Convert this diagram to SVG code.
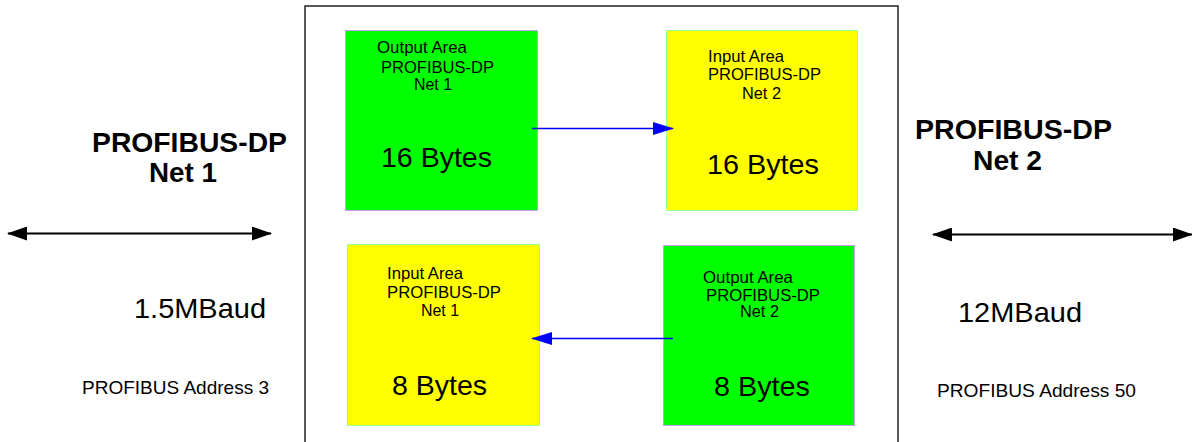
<svg xmlns="http://www.w3.org/2000/svg" width="1192" height="442" viewBox="0 0 1192 442">
<style>
text{font-family:"Liberation Sans",Arial,sans-serif;fill:#000}
.s{font-size:16.5px}
.b{font-size:28px}
.h{font-size:28px;font-weight:bold}
.m{font-size:28px}
.a{font-size:19px}
.green{fill:#00ff00;stroke:#cc99ff;stroke-width:1}
.yellow{fill:#ffff00;stroke:#99ff99;stroke-width:1}
.blue{stroke:#0000ff;stroke-width:1.5;fill:none}
.bus{stroke:#000;stroke-width:2;fill:none}
</style>
<defs>
<marker id="ab" markerWidth="21" markerHeight="13" refX="20" refY="6.5" orient="auto" markerUnits="userSpaceOnUse">
<path d="M0,0 L21,6.5 L0,13 Z" fill="#0000ff"/>
</marker>
<marker id="ak" markerWidth="20" markerHeight="14" refX="19" refY="7" orient="auto-start-reverse" markerUnits="userSpaceOnUse">
<path d="M0,0 L20,7 L0,14 Z" fill="#000"/>
</marker>
</defs>
<rect x="305" y="6" width="593" height="450" fill="#fff" stroke="#222" stroke-width="1.5"/>
<g id="out1">
<rect class="green" x="345.5" y="30.5" width="192" height="180"/>
<text class="s" x="377" y="53" textLength="90" lengthAdjust="spacingAndGlyphs">Output Area</text>
<text class="s" x="381" y="73" textLength="113" lengthAdjust="spacingAndGlyphs">PROFIBUS-DP</text>
<text class="s" x="414" y="90" textLength="38" lengthAdjust="spacingAndGlyphs">Net 1</text>
<text class="b" x="381" y="167" textLength="111" lengthAdjust="spacingAndGlyphs">16 Bytes</text>
</g>
<g id="in2">
<rect class="yellow" x="666.5" y="30.5" width="191" height="180"/>
<text class="s" x="708" y="62" textLength="76" lengthAdjust="spacingAndGlyphs">Input Area</text>
<text class="s" x="708" y="80" textLength="113" lengthAdjust="spacingAndGlyphs">PROFIBUS-DP</text>
<text class="s" x="742" y="99" textLength="39" lengthAdjust="spacingAndGlyphs">Net 2</text>
<text class="b" x="707" y="174" textLength="112" lengthAdjust="spacingAndGlyphs">16 Bytes</text>
</g>
<g id="in1">
<rect class="yellow" x="347.5" y="244.5" width="192" height="181"/>
<text class="s" x="387" y="279" textLength="76" lengthAdjust="spacingAndGlyphs">Input Area</text>
<text class="s" x="387" y="298" textLength="114" lengthAdjust="spacingAndGlyphs">PROFIBUS-DP</text>
<text class="s" x="421" y="316" textLength="38" lengthAdjust="spacingAndGlyphs">Net 1</text>
<text class="b" x="392" y="395" textLength="95" lengthAdjust="spacingAndGlyphs">8 Bytes</text>
</g>
<g id="out2">
<rect class="green" x="663.5" y="245.5" width="191" height="180"/>
<text class="s" x="703" y="283" textLength="90" lengthAdjust="spacingAndGlyphs">Output Area</text>
<text class="s" x="706" y="301" textLength="114" lengthAdjust="spacingAndGlyphs">PROFIBUS-DP</text>
<text class="s" x="740" y="317" textLength="39" lengthAdjust="spacingAndGlyphs">Net 2</text>
<text class="b" x="714" y="396" textLength="96" lengthAdjust="spacingAndGlyphs">8 Bytes</text>
</g>
<g id="net1">
<text class="h" x="92" y="152" textLength="195" lengthAdjust="spacingAndGlyphs">PROFIBUS-DP</text>
<text class="h" x="149" y="182" textLength="68" lengthAdjust="spacingAndGlyphs">Net 1</text>
<text class="m" x="134" y="318" textLength="132" lengthAdjust="spacingAndGlyphs">1.5MBaud</text>
<text class="a" x="82" y="394" textLength="187" lengthAdjust="spacingAndGlyphs">PROFIBUS Address 3</text>
</g>
<g id="net2">
<text class="h" x="915" y="139" textLength="197" lengthAdjust="spacingAndGlyphs">PROFIBUS-DP</text>
<text class="h" x="973" y="170" textLength="69" lengthAdjust="spacingAndGlyphs">Net 2</text>
<text class="m" x="958" y="322" textLength="124" lengthAdjust="spacingAndGlyphs">12MBaud</text>
<text class="a" x="937" y="397" textLength="199" lengthAdjust="spacingAndGlyphs">PROFIBUS Address 50</text>
</g>
<g id="connectors">
<line class="blue" x1="532" y1="128.5" x2="673" y2="128.5" marker-end="url(#ab)"/>
<line class="blue" x1="673" y1="338.5" x2="532" y2="338.5" marker-end="url(#ab)"/>
<line class="bus" x1="8" y1="233.5" x2="271" y2="233.5" marker-start="url(#ak)" marker-end="url(#ak)"/>
<line class="bus" x1="933" y1="234.5" x2="1192" y2="234.5" marker-start="url(#ak)" marker-end="url(#ak)"/>
</g>
</svg>
